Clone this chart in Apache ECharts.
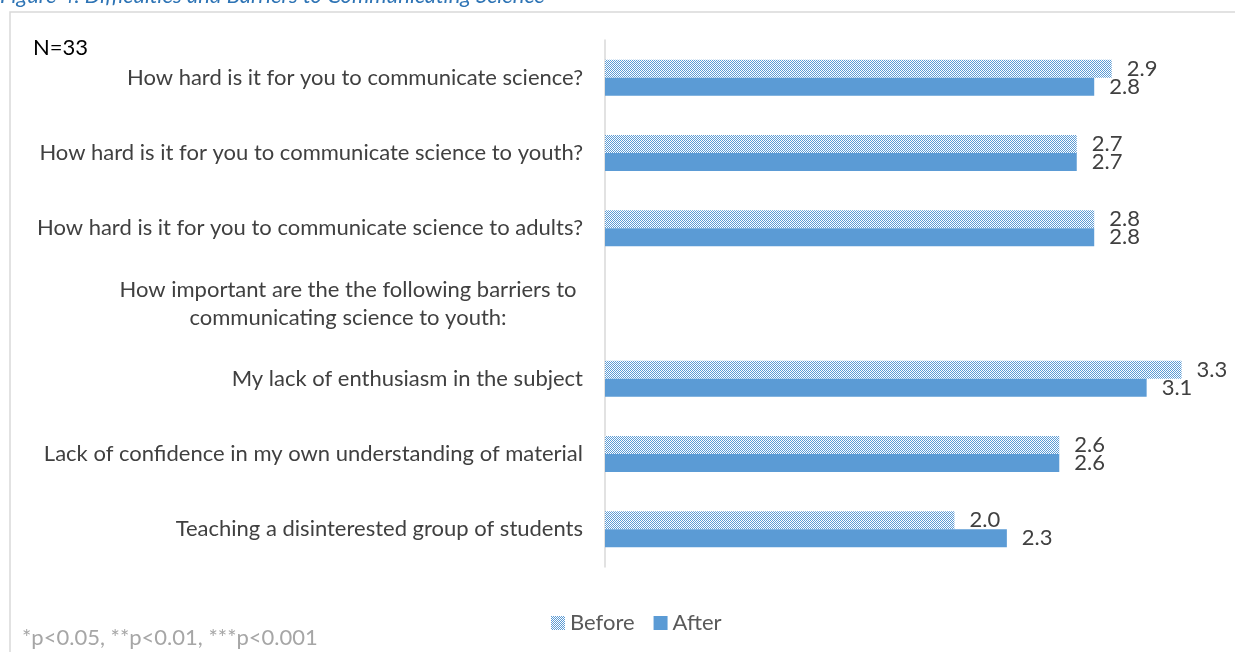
<!DOCTYPE html>
<html>
<head>
<meta charset="utf-8">
<script src="https://cdn.jsdelivr.net/npm/echarts@6/dist/echarts.min.js"></script>
<style>html,body{margin:0;padding:0;background:#fff;}#c{width:1235px;height:652px;}</style>
</head>
<body>
<div id="c"></div>
<script>
const categories = [
  "How hard is it for you to communicate science?",
  "How hard is it for you to communicate science to youth?",
  "How hard is it for you to communicate science to adults?",
  "How important are the the following barriers to|communicating science to youth:",
  "My lack of enthusiasm in the subject",
  "Lack of confidence in my own understanding of material",
  "Teaching a disinterested group of students"
];
const beforeValues = [2.9, 2.7, 2.8, null, 3.3, 2.6, 2.0];
const afterValues  = [2.8, 2.7, 2.8, null, 3.1, 2.6, 2.3];
const seriesNames = ["Before", "After"];

const blue = '#5B9BD5';
const pc = document.createElement('canvas');
pc.width = 2; pc.height = 2;
const ctx = pc.getContext('2d');
ctx.fillStyle = '#ffffff'; ctx.fillRect(0,0,2,2);
ctx.fillStyle = blue; ctx.fillRect(0,0,1,1); ctx.fillRect(1,1,1,1);
const pattern = {image: pc, repeat: 'repeat'};

const font = 'Lato, "Open Sans", sans-serif';
const fs = 22;
const chart = echarts.init(document.getElementById('c'), null, {renderer: 'canvas'});
const labelStyle = {show: true, position: 'right', distance: 15, color: '#404040', fontSize: fs, fontFamily: font, formatter: p => p.value == null ? '' : Number(p.value).toFixed(1)};
chart.setOption({
  animation: false,
  graphic: [
    {type: 'rect', shape: {x: 10, y: 12, width: 1400, height: 800}, style: {fill: 'none', stroke: '#D9D9D9', lineWidth: 1.5}, silent: true},
    {type: 'text', left: 0, top: -15, style: {text: 'Figure 4. Difficulties and Barriers to Communicating Science', fontFamily: font, fontStyle: 'italic', fontSize: fs, fill: '#2E74B5'}},
    {type: 'text', left: 33, top: 37, style: {text: 'N=33', fontFamily: font, fontSize: fs, fill: '#000000'}},
    {type: 'text', left: 22, top: 627, style: {text: '*p<0.05, **p<0.01, ***p<0.001', fontFamily: font, fontSize: fs, fill: '#A6A6A6'}}
  ],
  grid: {left: 605, top: 40, right: 1, bottom: 85, containLabel: false},
  legend: {
    data: seriesNames, left: 546, top: 607, itemWidth: 14, itemHeight: 14, itemGap: 19, icon: 'rect',
    textStyle: {fontFamily: font, fontSize: fs, color: '#595959'}
  },
  xAxis: {type: 'value', min: 0, max: 3.6, show: false, splitLine: {show: false}},
  yAxis: {
    type: 'category', inverse: true, data: categories,
    axisLine: {show: true, lineStyle: {color: '#D9D9D9', width: 1.5}},
    axisTick: {show: false},
    axisLabel: {
      margin: 22, color: '#404040', fontSize: fs, fontFamily: font,
      formatter: v => v.indexOf('|') >= 0 ? v.split('|').map(s => '{c|' + s + '}').join('\n') : v,
      rich: {c: {width: 470, align: 'center', fontSize: fs, fontFamily: font, color: '#404040', lineHeight: 28}}
    }
  },
  series: [
    {name: seriesNames[0], type: 'bar', data: beforeValues, barWidth: 18, barGap: '0%', itemStyle: {color: pattern}, label: labelStyle},
    {name: seriesNames[1], type: 'bar', data: afterValues, barWidth: 18, barGap: '0%', itemStyle: {color: blue}, label: labelStyle}
  ]
});
</script>
</body>
</html>
